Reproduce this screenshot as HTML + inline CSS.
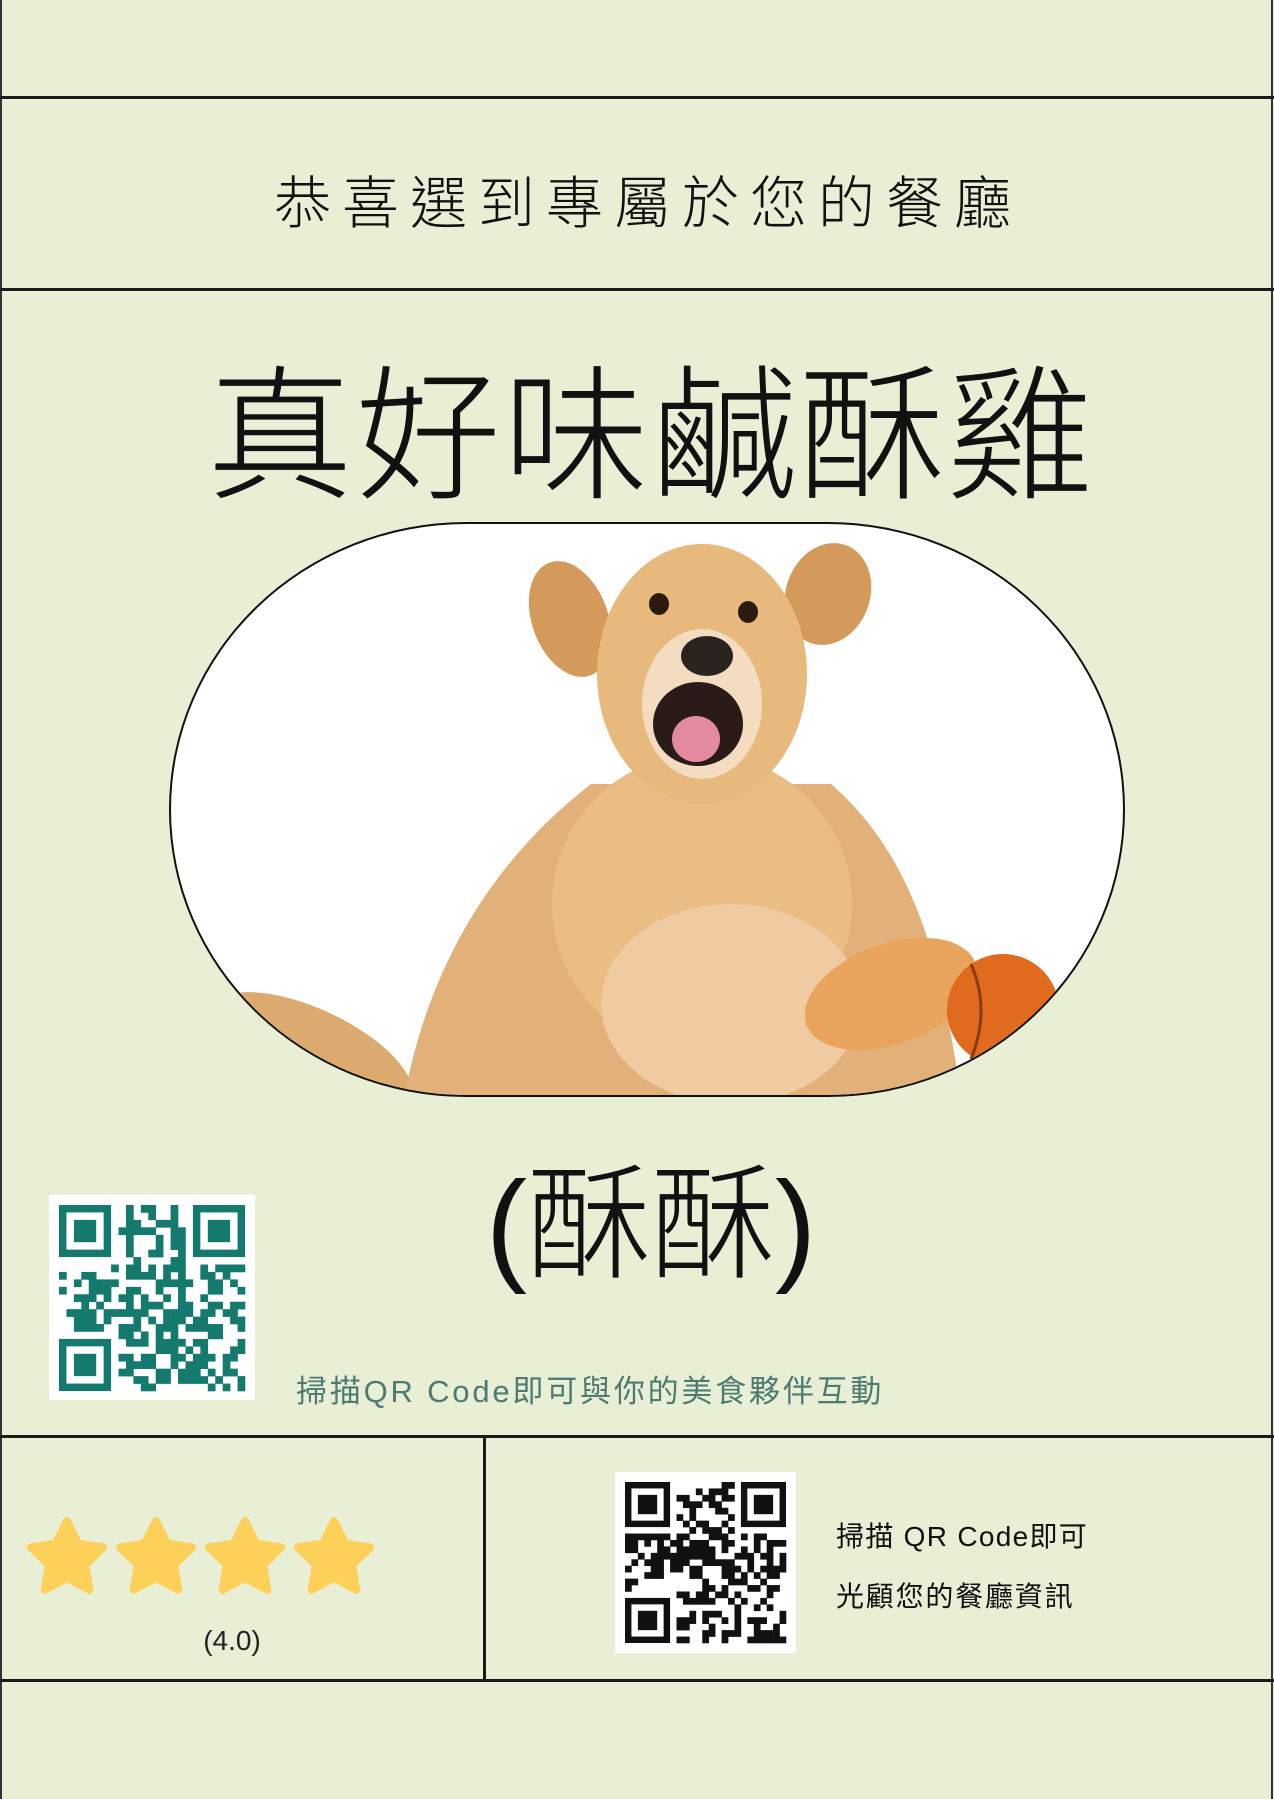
<!DOCTYPE html>
<html><head><meta charset="utf-8">
<style>
html,body{margin:0;padding:0}
body{width:1274px;height:1799px;background:#e9efd5;position:relative;overflow:hidden;font-family:"Liberation Sans","Noto Sans CJK TC",sans-serif;color:#111}
.hl{position:absolute;left:0;width:1274px;height:3px;background:#1a1a1a}
.abs{position:absolute}
.txt{position:absolute;white-space:nowrap;text-align:center;transform:translate(-50%,-50%)}
</style></head>
<body>
<div class="abs" style="left:0;top:0;width:2px;height:1799px;background:#333"></div>
<div class="abs" style="left:1271px;top:0;width:2px;height:1799px;background:#333"></div>
<div class="hl" style="top:96px"></div>
<div class="hl" style="top:288px"></div>
<div class="hl" style="top:1435px"></div>
<div class="hl" style="top:1679px"></div>
<div class="abs" style="left:483px;top:1436px;width:3px;height:245px;background:#1a1a1a"></div>

<div class="txt" style="left:648px;top:199px;font-size:57px;letter-spacing:11px;font-weight:300">恭喜選到專屬於您的餐廳</div>
<div class="txt" style="left:651px;top:425px;font-size:146px;letter-spacing:2px;font-weight:300">真好味鹹酥雞</div>

<div class="abs" style="left:169px;top:522px;width:952px;height:571px;border:2px solid #111;border-radius:300px/290px;background:#fff;overflow:hidden">
<svg width="952" height="571" viewBox="0 0 952 571">
<ellipse cx="140" cy="530" rx="110" ry="45" fill="#dcaa6e" transform="rotate(25 140 530)"/>
<path d="M233 574 C260 430 330 330 420 260 L660 260 C740 330 770 430 790 574 Z" fill="#e2b079"/>
<ellipse cx="531" cy="380" rx="150" ry="150" fill="#e9bd84"/>
<ellipse cx="560" cy="480" rx="130" ry="100" fill="#f0caa0"/>
<ellipse cx="720" cy="470" rx="90" ry="50" fill="#e8a45c" transform="rotate(-20 720 470)"/>
<ellipse cx="399" cy="95" rx="38" ry="60" fill="#d49a5c" transform="rotate(-20 399 95)"/>
<ellipse cx="657" cy="70" rx="42" ry="52" fill="#d49a5c" transform="rotate(20 657 70)"/>
<ellipse cx="531" cy="150" rx="105" ry="130" fill="#e8b97c"/>
<ellipse cx="531" cy="180" rx="60" ry="75" fill="#f3dcc0"/>
<ellipse cx="488" cy="80" rx="10" ry="11" fill="#2a1a10"/>
<ellipse cx="577" cy="88" rx="10" ry="11" fill="#2a1a10"/>
<ellipse cx="536" cy="132" rx="26" ry="20" fill="#2b2320"/>
<ellipse cx="527" cy="200" rx="45" ry="42" fill="#2b1b18"/>
<ellipse cx="525" cy="215" rx="24" ry="23" fill="#e48aa0"/>
<circle cx="832" cy="486" r="56" fill="#e06a1e"/>
<path d="M800 440 Q820 486 800 535" stroke="#8a3a10" stroke-width="3" fill="none"/>
</svg></div>

<div class="txt" style="left:651px;top:1214px;font-size:124px;font-weight:300">(酥酥)</div>

<div class="abs" style="left:49px;top:1195px;width:206px;height:205px;background:#fff"><svg id="qr1" width="206" height="205"></svg></div>
<div class="abs" style="left:296px;top:1366px;font-size:31px;letter-spacing:2.8px;color:#4d7b72;white-space:nowrap">掃描QR Code即可與你的美食夥伴互動</div>

<svg class="abs" style="left:20px;top:1515px" width="380" height="90">
<g id="stars" fill="#fdd05a"></g></svg>
<div class="txt" style="left:232px;top:1641px;font-size:28px;color:#222">(4.0)</div>

<div class="abs" style="left:615px;top:1472px;width:181px;height:181px;background:#fff"><svg id="qr2" width="181" height="181"></svg></div>
<div class="abs" style="left:836px;top:1515px;font-size:28px;letter-spacing:1.3px;white-space:nowrap">掃描 QR Code即可</div>
<div class="abs" style="left:836px;top:1575px;font-size:28px;letter-spacing:1.8px;white-space:nowrap">光顧您的餐廳資訊</div>

<script>
var ratings=[1,1,1,1];
var g=document.getElementById('stars');
ratings.forEach(function(v,i){
 var cx=47+i*89,cy=44,R=38,r=19,p=[];
 for(var k=0;k<10;k++){var a=-Math.PI/2+k*Math.PI/5,rr=k%2?r:R;p.push((cx+rr*Math.cos(a)).toFixed(1)+','+(cy+rr*Math.sin(a)).toFixed(1));}
 var s=document.createElementNS('http://www.w3.org/2000/svg','polygon');
 s.setAttribute('points',p.join(' '));
 s.setAttribute('stroke','#fdd05a');s.setAttribute('stroke-width','8');s.setAttribute('stroke-linejoin','round');
 
 
 g.appendChild(s);
});
function qr(id,size,off,n,color,seed){
 var svg=document.getElementById(id),m=(size-2*off)/n,h='';
 function finder(x,y){h+='<rect x="'+(off+x*m+m/2)+'" y="'+(off+y*m+m/2)+'" width="'+(6*m)+'" height="'+(6*m)+'" fill="none" stroke="'+color+'" stroke-width="'+m+'"/><rect x="'+(off+(x+2)*m)+'" y="'+(off+(y+2)*m)+'" width="'+(3*m)+'" height="'+(3*m)+'" fill="'+color+'"/>';}
 var s=seed;
 for(var y=0;y<n;y++)for(var x=0;x<n;x++){
  if((x<8&&y<8)||(x>n-9&&y<8)||(x<8&&y>n-9))continue;
  s=(s*1103515245+12345)&0x7fffffff;
  if((s>>8)%100<50)h+='<rect x="'+(off+x*m)+'" y="'+(off+y*m)+'" width="'+(m+0.3)+'" height="'+(m+0.3)+'" fill="'+color+'"/>';
 }
 finder(0,0);finder(n-7,0);finder(0,n-7);
 svg.innerHTML=h;
}
qr('qr1',206,10,25,'#157a6e',7);
qr('qr2',181,10,25,'#111',19);
</script>
</body></html>
